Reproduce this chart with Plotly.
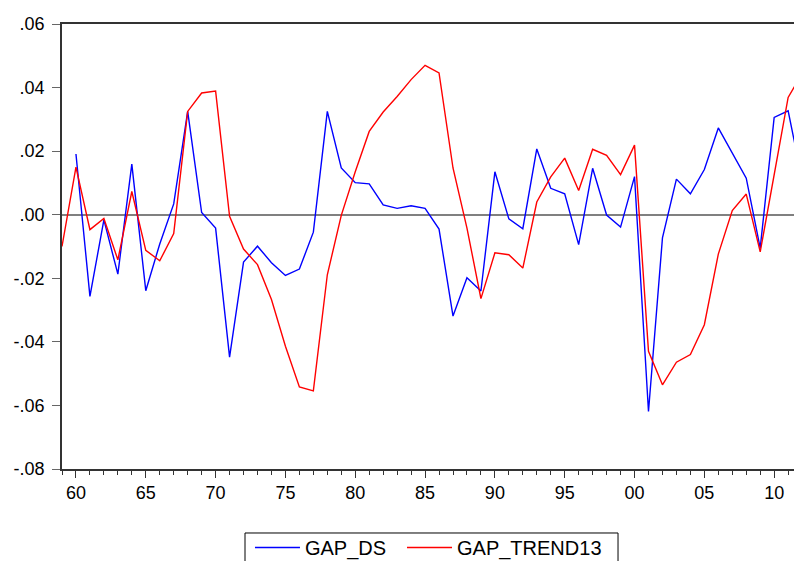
import plotly.graph_objects as go

years = list(range(1959, 2013))

gap_ds = [None,
          0.0191, -0.0257, -0.0016, -0.0187, 0.0159, -0.0239, -0.0092, 0.0034, 0.0325, 0.0007,
          -0.0042, -0.0448, -0.0149, -0.0099, -0.0151, -0.0191, -0.0171, -0.0055, 0.0325, 0.0147,
          0.0101, 0.0097, 0.0031, 0.0020, 0.0028, 0.0020, -0.0045, -0.0319, -0.0198, -0.0240,
          0.0135, -0.0013, -0.0044, 0.0207, 0.0083, 0.0066, -0.0094, 0.0146, -0.0001, -0.0039,
          0.0120, -0.0619, -0.0073, 0.0112, 0.0066, 0.0142, 0.0273, 0.0194, 0.0115, -0.0105,
          0.0306, 0.0327, 0.0110]

gap_trend13 = [-0.0100,
               0.0150, -0.0047, -0.0012, -0.0142, 0.0073, -0.0112, -0.0145, -0.0059, 0.0325, 0.0383,
               0.0389, -0.0005, -0.0108, -0.0157, -0.0267, -0.0414, -0.0542, -0.0554, -0.0189, -0.0002,
               0.0135, 0.0262, 0.0323, 0.0372, 0.0425, 0.0470, 0.0446, 0.0147, -0.0042, -0.0264,
               -0.0120, -0.0126, -0.0168, 0.0040, 0.0119, 0.0178, 0.0076, 0.0206, 0.0187, 0.0126,
               0.0219, -0.0430, -0.0535, -0.0464, -0.0440, -0.0346, -0.0124, 0.0013, 0.0065, -0.0117,
               0.0132, 0.0369, 0.0445]

y_tickvals = [0.06, 0.04, 0.02, 0.00, -0.02, -0.04, -0.06, -0.08]
y_ticktext = [".06", ".04", ".02", ".00", "-.02", "-.04", "-.06", "-.08"]
x_tickvals = [1960, 1965, 1970, 1975, 1980, 1985, 1990, 1995, 2000, 2005, 2010]
x_ticktext = ["60", "65", "70", "75", "80", "85", "90", "95", "00", "05", "10"]

font_family = "Liberation Sans, Arial, sans-serif"

fig = go.Figure()
fig.add_trace(go.Scatter(x=years, y=gap_ds, mode="lines", name="GAP_DS",
                         line=dict(color="#0000FF", width=1.4), legend="legend"))
fig.add_trace(go.Scatter(x=years, y=gap_trend13, mode="lines", name="GAP_TREND13",
                         line=dict(color="#FF0000", width=1.4), legend="legend2"))

leg_common = dict(orientation="v", xanchor="left", yanchor="top", y=-0.1326,
                  borderwidth=0, bgcolor="rgba(0,0,0,0)", font=dict(size=20),
                  itemwidth=45, maxheight=120)

fig.update_layout(
    width=794, height=561,
    margin=dict(l=62, r=0, t=24, b=92, autoexpand=False),
    paper_bgcolor="white", plot_bgcolor="white",
    font=dict(family=font_family, size=17, color="black"),
    showlegend=True,
    legend=dict(x=0.2568, **leg_common),
    legend2=dict(x=0.4645, **leg_common),
)

# legend frame
fig.add_shape(type="rect", xref="paper", yref="paper",
              x0=0.25, x1=0.7596, y0=-0.1438, y1=-0.24,
              line=dict(color="black", width=1), fillcolor="rgba(0,0,0,0)", layer="below")

fig.update_xaxes(
    range=[1959, 2011.42],
    tickvals=x_tickvals, ticktext=x_ticktext,
    ticks="outside", ticklen=7, tickcolor="#333333", tickwidth=1,
    minor=dict(dtick=1, tick0=1959, ticks="outside", ticklen=4, tickcolor="#333333", tickwidth=1),
    showline=True, linecolor="#333333", linewidth=1.5, mirror=True,
    showgrid=False, zeroline=False, automargin=False,
    tickfont=dict(size=18),
)
fig.update_yaxes(
    range=[-0.08, 0.06],
    tickvals=y_tickvals, ticktext=y_ticktext,
    ticks="outside", ticklen=8, tickcolor="#666666", tickwidth=1,
    showline=True, linecolor="#333333", linewidth=1.5, mirror=False,
    showgrid=False, automargin=False,
    zeroline=True, zerolinecolor="#808080", zerolinewidth=1.5,
    tickfont=dict(size=18), ticklabelstandoff=4,
)

fig.write_html("out.html", config={"displayModeBar": False},
               post_script="document.body.style.margin='0px';document.body.style.overflow='hidden';")
